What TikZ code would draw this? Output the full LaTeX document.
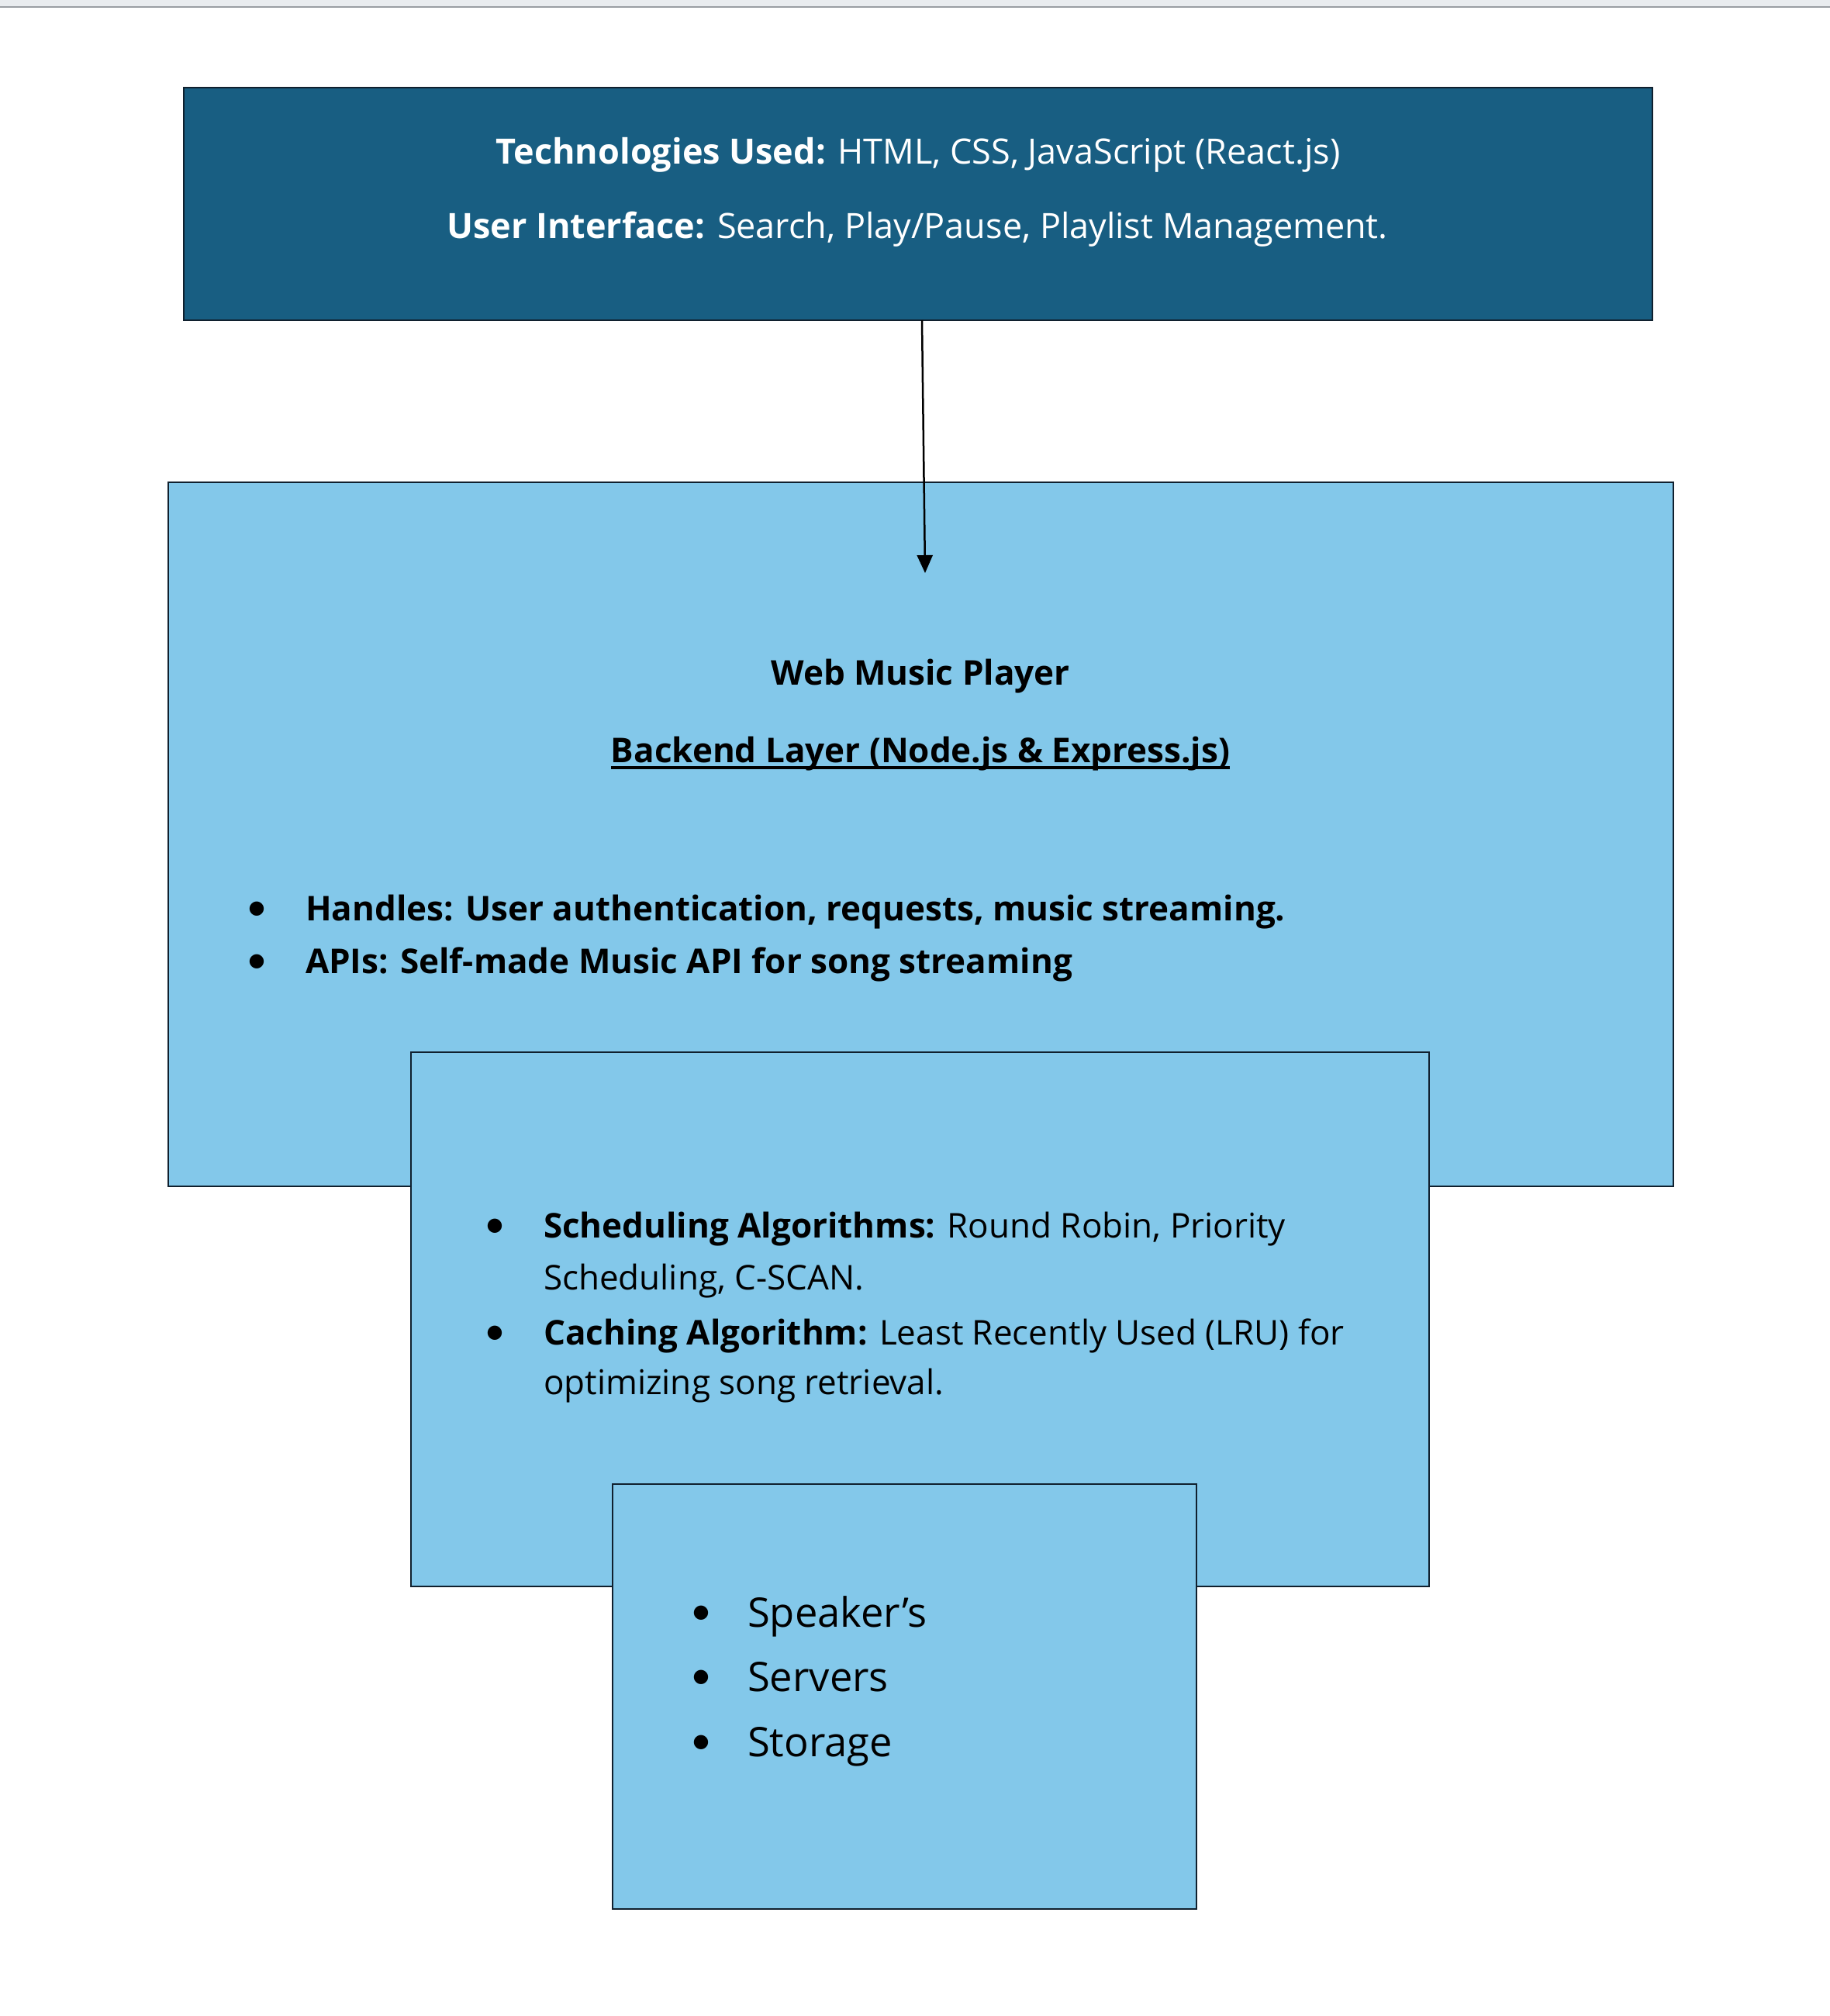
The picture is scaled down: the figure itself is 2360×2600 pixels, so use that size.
\documentclass[tikz,border=0pt]{standalone}
\usepackage{fontspec}
\setmainfont{Open Sans}
\newfontfamily\bulfont{DejaVu Sans}
\usetikzlibrary{arrows.meta}
\definecolor{topblue}{HTML}{185E82}
\definecolor{lightblue}{HTML}{83C8EA}
\definecolor{edgecol}{HTML}{10202E}
\definecolor{stripgray}{HTML}{E9ECEF}
\definecolor{stripline}{HTML}{9A9EA3}
\tikzset{
  boxstyle/.style={draw=edgecol, line width=2.5pt},
  txt/.style={inner sep=0pt, outer sep=0pt, font=\fontsize{44}{52}\selectfont, text=black},
  toptxt/.style={txt, font=\fontsize{45}{52}\selectfont, text=white},
  bigtxt/.style={inner sep=0pt, outer sep=0pt, font=\fontsize{52.5}{60}\selectfont, text=black},
  bul/.style={inner sep=0pt, outer sep=0pt, anchor=center, font=\bulfont\fontsize{24}{26}\selectfont, text=black},
}
\begin{document}
\begin{tikzpicture}[x=1pt,y=-1pt]
\useasboundingbox (0,0) rectangle (2360,2600);
\fill[white] (0,0) rectangle (2360,2600);
% top strip
\fill[stripgray] (0,0) rectangle (2360,8);
\draw[stripline, line width=2pt] (0,9) -- (2360,9);

% boxes
\draw[boxstyle, fill=topblue] (237,113) rectangle (2131,413);
\draw[boxstyle, fill=lightblue] (217,622) rectangle (2158,1530);
\draw[boxstyle, fill=lightblue] (530,1357) rectangle (1843,2046);
\draw[boxstyle, fill=lightblue] (790,1914) rectangle (1543,2462);

% named helpers
\coordinate (topbottom) at (1189,413);
\coordinate (arrowtip) at (1193,739);
\draw[black, line width=2.5pt, -{Triangle[length=23pt,width=20pt]}] (topbottom) -- (arrowtip);

% top box text
\node[toptxt, anchor=base] (t1) at (1184,211) {\textbf{Technologies Used:} HTML, CSS, JavaScript (React.js)};
\node[toptxt, anchor=base] (t2) at (1183,307) {\textbf{User Interface:} Search, Play/Pause, Playlist Management.};

% big box text
\node[txt, anchor=base, font=\fontsize{44}{52}\bfseries] (wmp) at (1187,883) {Web Music Player};
\node[txt, anchor=base, font=\fontsize{44}{52}\bfseries] (bk) at (1187,983) {Backend Layer (Node.js \& Express.js)};
\draw[black, line width=3.5pt] ([yshift=-7pt]bk.base west) -- ([yshift=-7pt]bk.base east);

\node[bul] (b1) at (331,1172) {●};
\node[txt, anchor=base west, font=\fontsize{44}{52}\bfseries] (h1) at (394,1187) {Handles: User authentication, requests, music streaming.};
\node[bul] (b2) at (331,1240) {●};
\node[txt, anchor=base west, font=\fontsize{44}{52}\bfseries] (h2) at (394,1255) {APIs: Self-made Music API for song streaming};

% middle box text
\node[bul] (b3) at (638,1581) {●};
\node[txt, anchor=base west] (m1) at (701,1596) {\textbf{Scheduling Algorithms:} Round Robin, Priority};
\node[txt, anchor=base west] (m2) at (701,1663) {Scheduling, C-SCAN.};
\node[bul] (b4) at (638,1719) {●};
\node[txt, anchor=base west] (m3) at (701,1734) {\textbf{Caching Algorithm:} Least Recently Used (LRU) for};
\node[txt, anchor=base west] (m4) at (701,1798) {optimizing song retrieval.};

% bottom box text
\node[bul] (b5) at (904,2080) {●};
\node[bigtxt, anchor=base west] (s1) at (964,2098) {Speaker’s};
\node[bul] (b6) at (904,2163) {●};
\node[bigtxt, anchor=base west] (s2) at (964,2181) {Servers};
\node[bul] (b7) at (904,2247) {●};
\node[bigtxt, anchor=base west] (s3) at (964,2265) {Storage};
\end{tikzpicture}
\end{document}
